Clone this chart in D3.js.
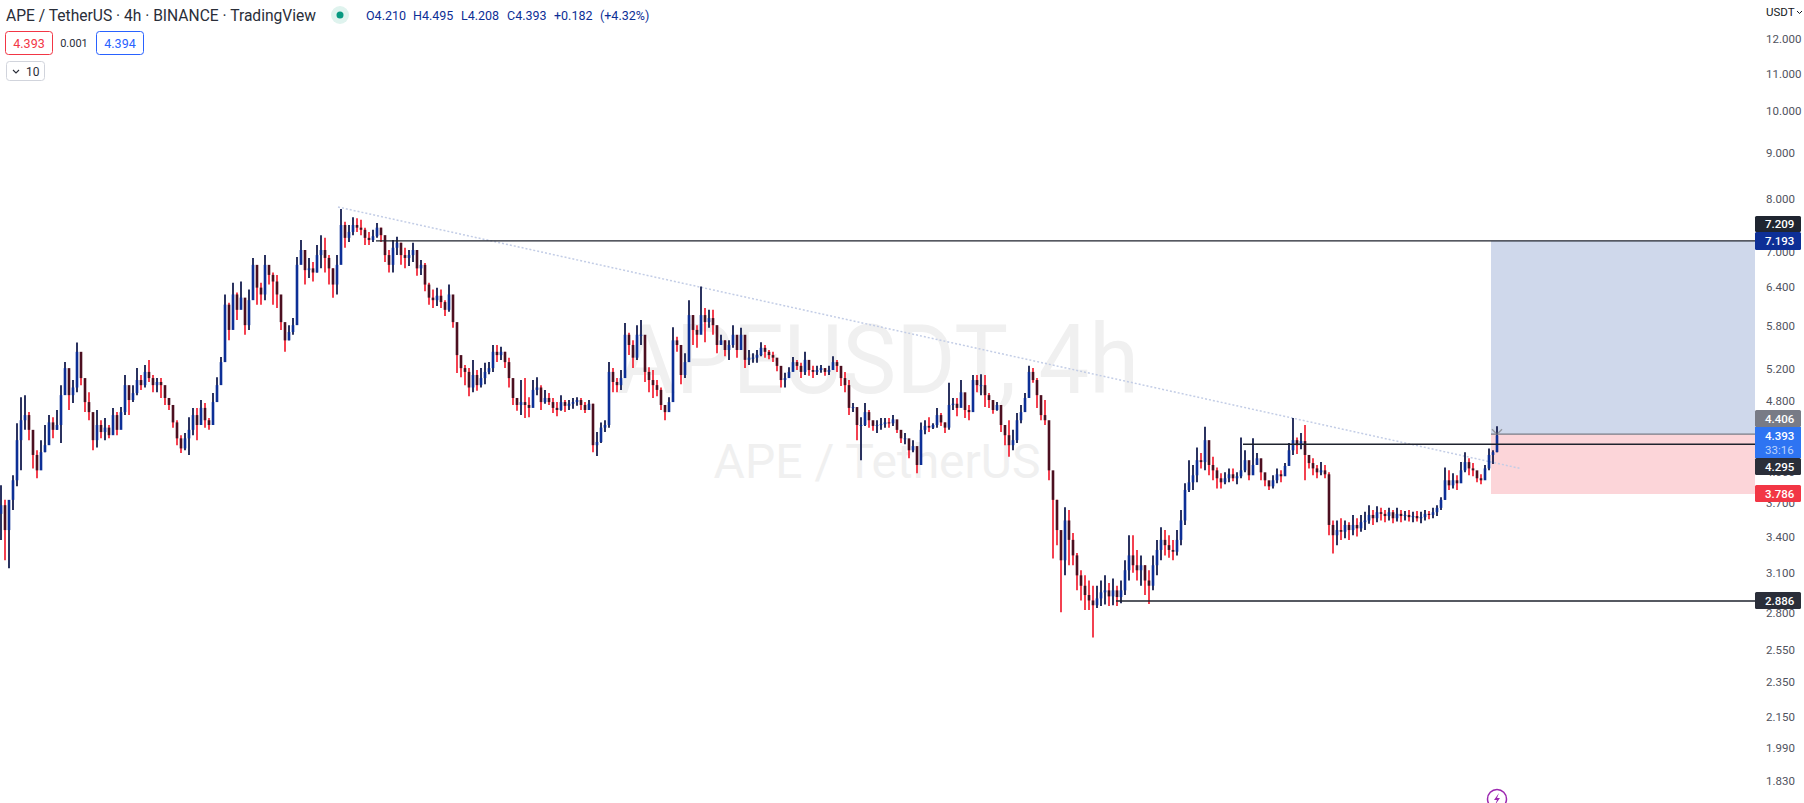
<!DOCTYPE html>
<html><head><meta charset="utf-8">
<script src="https://cdn.jsdelivr.net/npm/d3@7"></script>
<style>html,body{margin:0;padding:0;background:#fff}svg{display:block}text{font-family:Roboto,sans-serif}</style>
</head><body><svg id="c" width="1804" height="803"></svg>
<script>
const highs=[
3.87,3.73,3.59,3.97,4.53,4.84,4.865,4.66,4.42,4.23,
4.34,4.51,4.625,4.60,4.685,4.99,5.29,5.16,5.055,5.56,
5.25,4.93,4.90,4.49,4.685,4.565,4.59,4.51,4.71,4.66,
4.72,5.12,4.90,4.99,5.21,5.12,5.25,5.32,5.12,5.08,
5.08,4.93,4.83,4.625,4.565,4.395,4.42,4.60,4.71,4.71,
4.805,4.77,4.59,4.89,5.09,5.36,6.28,6.15,6.47,6.31,
6.49,6.04,6.36,6.89,6.57,6.47,6.94,6.71,6.64,6.60,
6.04,5.77,5.81,5.915,6.905,7.21,7.03,6.89,6.82,7.12,
7.30,7.25,6.94,6.71,6.94,7.80,7.55,7.49,7.64,7.62,
7.59,7.44,7.36,7.40,7.53,7.44,7.21,7.03,7.21,7.27,
7.16,7.07,7.03,7.16,6.89,6.855,6.80,6.47,6.36,6.39,
6.36,6.19,6.44,6.16,5.81,5.36,5.25,5.21,5.32,5.185,
5.21,5.28,5.29,5.525,5.525,5.50,5.43,5.35,5.02,4.83,
5.055,5.08,4.84,5.055,5.09,4.99,4.93,4.89,4.83,4.78,
4.865,4.805,4.805,4.83,4.84,4.83,4.78,4.805,4.76,4.43,
4.54,4.565,5.29,5.21,5.08,5.185,5.84,5.70,5.59,5.81,
5.885,5.385,5.22,5.185,5.055,4.96,4.745,4.84,5.78,5.64,
5.35,5.41,6.19,5.96,5.81,6.41,6.07,6.04,6.04,5.70,
5.67,5.59,5.59,5.81,5.55,5.77,5.525,5.455,5.41,5.455,
5.565,5.525,5.455,5.43,5.32,5.185,5.15,5.22,5.36,5.32,
5.28,5.43,5.29,5.24,5.24,5.25,5.21,5.24,5.37,5.32,
5.21,5.16,5.055,4.77,4.685,4.60,4.77,4.685,4.54,4.565,
4.59,4.59,4.59,4.625,4.51,4.43,4.42,4.31,4.34,4.21,
4.54,4.565,4.60,4.53,4.71,4.65,4.54,5.02,4.83,4.83,
5.055,4.83,4.745,5.12,5.12,5.13,5.12,4.89,4.77,4.78,
4.66,4.51,4.565,4.455,4.65,4.745,4.89,5.24,5.21,5.08,
4.745,4.805,4.54,3.99,3.73,3.44,3.66,3.635,3.43,3.26,
3.12,3.08,3.04,3.00,3.00,3.04,3.08,3.02,3.055,3.00,
3.04,3.20,3.41,3.41,3.285,3.24,3.16,3.12,3.24,3.37,
3.48,3.455,3.41,3.37,3.455,3.635,3.89,4.125,4.075,4.26,
4.20,4.49,4.23,4.16,4.05,3.99,4.00,4.04,4.04,4.00,
4.37,4.23,4.04,4.36,4.20,4.095,3.96,3.90,3.97,4.04,
4.02,4.095,4.31,4.59,4.37,4.42,4.51,4.145,4.145,4.075,
4.105,4.075,4.00,3.54,3.54,3.56,3.54,3.525,3.59,3.56,
3.59,3.62,3.68,3.635,3.67,3.655,3.635,3.655,3.635,3.655,
3.635,3.625,3.635,3.62,3.625,3.62,3.635,3.625,3.655,3.68,
3.755,4.05,4.02,3.99,3.97,4.105,4.21,4.145,4.095,4.00,
3.98,4.075,4.25,4.23,4.495];
const lows=[
3.37,3.20,3.135,3.635,3.86,4.02,4.455,4.34,4.04,3.94,
4.105,4.21,4.34,4.36,4.455,4.31,4.99,4.685,4.77,4.90,
4.99,4.66,4.565,4.23,4.26,4.36,4.34,4.36,4.51,4.395,
4.48,4.625,4.625,4.78,4.865,4.93,4.96,5.03,4.90,4.90,
4.83,4.745,4.685,4.48,4.285,4.20,4.23,4.18,4.395,4.34,
4.54,4.48,4.455,4.625,4.865,5.12,5.32,5.59,5.81,5.885,
6.12,5.67,5.74,6.44,6.12,6.12,6.19,6.44,6.12,6.07,
5.74,5.43,5.59,5.67,6.36,6.82,6.44,6.55,6.49,6.64,
6.71,6.64,6.44,6.23,6.28,6.82,7.07,7.175,7.30,7.36,
7.30,7.12,7.12,7.175,7.25,7.175,6.82,6.64,6.64,6.94,
6.77,6.71,6.75,6.82,6.585,6.60,6.33,6.12,6.07,6.10,
6.07,5.945,6.01,5.77,5.145,5.09,4.99,4.85,4.90,4.92,
4.96,5.00,5.13,5.16,5.29,5.32,5.21,4.96,4.745,4.675,
4.625,4.59,4.60,4.77,4.865,4.685,4.76,4.745,4.65,4.61,
4.675,4.66,4.685,4.70,4.735,4.685,4.65,4.71,4.21,4.17,
4.31,4.43,4.48,4.90,4.90,4.93,5.16,5.385,5.21,5.32,
5.525,5.03,4.90,4.83,4.85,4.685,4.565,4.66,4.805,5.43,
5.00,5.08,5.455,5.525,5.485,5.74,5.565,5.77,5.67,5.41,
5.54,5.37,5.32,5.485,5.35,5.565,5.21,5.25,5.28,5.28,
5.37,5.35,5.33,5.29,5.17,4.96,4.96,5.08,5.185,5.185,
5.08,5.12,5.11,5.08,5.12,5.15,5.11,5.12,5.20,5.16,
4.98,4.90,4.625,4.66,4.34,4.125,4.50,4.48,4.445,4.42,
4.455,4.48,4.48,4.50,4.42,4.31,4.295,4.145,4.21,3.99,
4.075,4.405,4.43,4.465,4.48,4.50,4.42,4.455,4.685,4.61,
4.78,4.59,4.565,4.93,4.90,4.865,4.72,4.71,4.64,4.675,
4.43,4.285,4.16,4.23,4.31,4.53,4.685,4.85,5.02,4.71,
4.565,4.51,3.92,3.215,3.325,2.805,3.08,3.16,3.16,2.965,
2.89,2.82,2.82,2.63,2.835,2.85,2.86,2.85,2.855,2.85,
2.87,2.93,3.04,3.10,3.04,3.00,2.93,2.865,2.965,3.08,
3.20,3.24,3.22,3.20,3.24,3.325,3.50,3.805,3.825,3.90,
4.04,4.02,3.97,3.92,3.84,3.84,3.88,3.90,3.91,3.88,
3.94,4.00,3.92,3.98,4.085,3.92,3.86,3.825,3.84,3.89,
3.90,4.00,4.105,4.18,4.19,4.24,3.92,4.04,3.97,3.94,
3.97,3.94,3.41,3.255,3.325,3.37,3.385,3.37,3.41,3.40,
3.44,3.455,3.51,3.50,3.525,3.54,3.525,3.54,3.515,3.53,
3.525,3.54,3.53,3.525,3.53,3.515,3.54,3.55,3.56,3.58,
3.635,3.73,3.825,3.84,3.825,3.90,4.00,3.97,3.96,3.90,
3.88,3.94,4.02,4.085,4.208];
const closes=[
3.68,3.455,3.73,3.92,4.34,4.565,4.625,4.455,4.18,4.02,
4.21,4.285,4.54,4.455,4.51,4.865,5.21,4.865,4.96,5.43,
5.08,4.78,4.66,4.34,4.51,4.43,4.48,4.395,4.625,4.455,
4.66,4.99,4.805,4.89,5.055,4.99,5.16,5.08,4.99,5.03,
4.99,4.83,4.745,4.54,4.36,4.25,4.36,4.455,4.625,4.51,
4.71,4.565,4.51,4.78,4.99,5.29,6.12,5.74,6.28,6.04,
6.23,5.81,6.19,6.77,6.39,6.28,6.77,6.60,6.49,6.28,
5.855,5.59,5.71,5.81,6.77,7.03,6.68,6.71,6.64,6.94,
7.03,6.89,6.71,6.44,6.77,7.49,7.25,7.36,7.49,7.44,
7.40,7.25,7.21,7.28,7.44,7.30,6.94,6.77,7.07,7.16,
6.94,6.89,6.94,7.03,6.71,6.77,6.44,6.23,6.19,6.26,
6.16,6.04,6.28,5.855,5.385,5.21,5.16,4.96,5.12,4.99,
5.08,5.16,5.21,5.43,5.385,5.43,5.29,5.08,4.83,4.745,
4.78,4.745,4.71,4.93,4.96,4.78,4.83,4.78,4.71,4.685,
4.78,4.735,4.76,4.78,4.805,4.745,4.685,4.76,4.285,4.32,
4.48,4.51,5.16,5.03,4.99,5.08,5.67,5.525,5.35,5.67,
5.67,5.16,5.055,4.99,4.93,4.745,4.66,4.78,5.59,5.525,
5.12,5.29,5.96,5.74,5.67,5.96,5.855,5.915,5.81,5.525,
5.59,5.455,5.525,5.67,5.455,5.67,5.32,5.35,5.35,5.385,
5.485,5.43,5.385,5.35,5.24,5.055,5.08,5.16,5.29,5.24,
5.16,5.32,5.185,5.16,5.185,5.21,5.16,5.185,5.29,5.24,
5.08,4.99,4.71,4.72,4.51,4.51,4.66,4.565,4.50,4.51,
4.52,4.54,4.53,4.575,4.455,4.36,4.36,4.23,4.275,4.075,
4.455,4.50,4.48,4.51,4.625,4.54,4.48,4.745,4.76,4.71,
4.90,4.685,4.66,5.055,4.99,4.99,4.865,4.805,4.685,4.745,
4.51,4.395,4.285,4.34,4.565,4.66,4.83,5.16,5.055,4.865,
4.625,4.565,4.02,3.73,3.455,3.20,3.54,3.37,3.24,3.08,
3.00,2.93,2.89,2.855,2.905,2.95,2.965,2.92,2.965,2.915,
2.965,3.12,3.24,3.16,3.12,3.16,3.04,3.00,3.16,3.285,
3.37,3.325,3.285,3.27,3.37,3.54,3.825,3.90,3.97,4.125,
4.105,4.34,4.075,4.02,3.94,3.90,3.94,3.98,3.94,3.96,
4.02,4.125,3.97,4.075,4.145,4.00,3.92,3.86,3.92,3.98,
3.96,4.065,4.23,4.34,4.285,4.33,4.18,4.095,4.04,4.00,
4.02,3.98,3.50,3.41,3.455,3.44,3.50,3.455,3.50,3.47,
3.525,3.54,3.59,3.56,3.615,3.60,3.58,3.615,3.56,3.60,
3.58,3.59,3.57,3.58,3.56,3.57,3.60,3.59,3.615,3.655,
3.73,3.92,3.87,3.92,3.89,4.02,4.105,4.04,4.02,3.94,
3.92,4.04,4.18,4.21,4.393];
const firstOpen=3.60;
const opens=[firstOpen].concat(closes.slice(0,-1)); // each 4h candle opens at the previous close

const priceTicks=[12,11,10,9,8,7,6.4,5.8,5.2,4.8,4,3.7,3.4,3.1,2.8,2.55,2.35,2.15,1.99,1.83];
const levelPrices=[7.193,4.295,2.886];
const levelStarts=[93.75,310.5,278.75];
const trendBars=[84.25,379.75];
const trendPrices=[7.84,4.04];
const entryPrice=4.406, targetPrice=7.193, stopPrice=3.786, boxStartBar=372.5;
const priceLabels=[
 {t:"7.209",top:216,h:16,bg:"#1f2530",c:"#fff"},
 {t:"7.193",top:232,h:18,bg:"#0d2f96",c:"#fff"},
 {t:"4.406",top:410,h:17,bg:"#787b86",c:"#fff"},
 {t:"4.295",top:458,h:17,bg:"#2a2e39",c:"#fff"},
 {t:"3.786",top:485,h:17,bg:"#f23645",c:"#fff"},
 {t:"2.886",top:592,h:17,bg:"#2a2e39",c:"#fff"}];
const ohlcTexts=[["O4.210",366],["H4.495",413],["L4.208",461],["C4.393",507],["+0.182",554],["(+4.32%)",600]];

const PR=1755;
const svg=d3.select("#c");
const x=d3.scaleLinear().domain([0,374]).range([1,1497]);
const y=d3.scaleLog().domain([12,2.886]).range([39.2,601]);

svg.append("defs").append("clipPath").attr("id","p").append("rect").attr("width",PR).attr("height",803);
const g=svg.append("g").attr("clip-path","url(#p)");

// watermark
g.append("text").attr("x",617).attr("y",393).attr("font-size",97).attr("textLength",522).attr("lengthAdjust","spacingAndGlyphs").attr("fill","#f0f0f0").text("APEUSDT, 4h");
g.append("text").attr("x",877).attr("y",478).attr("text-anchor","middle").attr("font-size",48).attr("fill","#f0f0f0").text("APE / TetherUS");

// position boxes
g.append("rect").attr("x",x(boxStartBar)).attr("y",y(targetPrice)).attr("width",PR-x(boxStartBar)).attr("height",y(entryPrice)-y(targetPrice)).attr("fill","#cfd8eb");
g.append("rect").attr("x",x(boxStartBar)).attr("y",y(entryPrice)).attr("width",PR-x(boxStartBar)).attr("height",y(stopPrice)-y(entryPrice)).attr("fill","#fcd5d9");

// trend line
g.append("line").attr("x1",x(trendBars[0])).attr("y1",y(trendPrices[0])).attr("x2",x(trendBars[1])).attr("y2",y(trendPrices[1]))
 .attr("stroke","#c3cde6").attr("stroke-width",1.5).attr("stroke-dasharray","2 2");

// candles
const candles=closes.map((c,i)=>({i,o:opens[i],h:highs[i],l:lows[i],c,up:c>=opens[i]}));
g.append("g").selectAll("line").data(candles).join("line")
 .attr("x1",d=>x(d.i)).attr("x2",d=>x(d.i)).attr("y1",d=>y(d.h)).attr("y2",d=>y(d.l))
 .attr("stroke",d=>d.up?"#141c4e":"#f22c3d").attr("stroke-width",1.8);
g.append("g").selectAll("rect").data(candles).join("rect")
 .attr("x",d=>x(d.i)-1.3).attr("width",2.6)
 .attr("y",d=>y(Math.max(d.o,d.c))).attr("height",d=>Math.max(1,Math.abs(y(d.o)-y(d.c))))
 .attr("fill",d=>d.up?"#0d2f96":"#4c0f20");

// horizontal levels
g.append("g").selectAll("line").data(levelPrices).join("line")
 .attr("x1",(d,i)=>x(levelStarts[i])).attr("x2",PR).attr("y1",d=>y(d)).attr("y2",d=>y(d))
 .attr("stroke","#1e222d").attr("stroke-width",1.3);
g.append("line").attr("x1",x(boxStartBar)).attr("x2",PR).attr("y1",y(entryPrice)).attr("y2",y(entryPrice)).attr("stroke","#787b86").attr("stroke-width",1.2);

// small marker strokes at the last bar
const mx=x(374), my=y(entryPrice);
g.append("path").attr("d",`M${mx-5},${my-5}L${mx-1},${my-1}M${mx+5},${my-5}L${mx+1},${my-1}`).attr("stroke","#9598a1").attr("stroke-width",1.4).attr("fill","none");

// axis
const axis=svg.append("g").attr("transform",`translate(${PR},0)`)
 .call(d3.axisRight(y).tickValues(priceTicks).tickFormat(d3.format(".3f")).tickSize(0).tickPadding(11));
axis.select(".domain").remove();
axis.selectAll("text").attr("font-family","Roboto,sans-serif").attr("font-size",11.5).attr("fill","#50535e");

svg.append("text").attr("x",1766).attr("y",16).attr("font-size",11.5).attr("fill","#131722").text("USDT");
svg.append("path").attr("d","M1797,11l2.5,2.5l2.5,-2.5").attr("fill","none").attr("stroke","#131722");

// price labels
const lab=svg.append("g").selectAll("g").data(priceLabels).join("g");
lab.append("rect").attr("x",PR).attr("width",46).attr("y",d=>d.top).attr("height",d=>d.h).attr("rx",1.5).attr("fill",d=>d.bg);
lab.append("text").attr("x",1765).attr("y",d=>d.top+d.h/2+4).attr("font-size",11.5).attr("font-weight",500).attr("fill",d=>d.c).text(d=>d.t);
svg.append("rect").attr("x",PR).attr("y",427).attr("width",46).attr("height",31).attr("fill","#2e74f2");
svg.append("text").attr("x",1765).attr("y",440).attr("font-size",11.5).attr("font-weight",500).attr("fill","#fff").text("4.393");
svg.append("text").attr("x",1765).attr("y",454).attr("font-size",11.5).attr("fill","#bcd3fb").text("33:16");

// header
svg.append("text").attr("x",6).attr("y",21).attr("font-size",15.6).attr("fill","#2a2e39").text("APE / TetherUS · 4h · BINANCE · TradingView");
svg.append("circle").attr("cx",340).attr("cy",15).attr("r",9).attr("fill","#dff3ee");
svg.append("circle").attr("cx",340).attr("cy",15).attr("r",3.5).attr("fill","#089981");
svg.append("g").selectAll("text").data(ohlcTexts).join("text").attr("x",d=>d[1]).attr("y",20).attr("font-size",12.5).attr("fill","#0d2f96").text(d=>d[0]);
svg.append("rect").attr("x",5.5).attr("y",31.5).attr("width",47).attr("height",23).attr("rx",3).attr("fill","#fff").attr("stroke","#f23645");
svg.append("text").attr("x",29).attr("y",48).attr("text-anchor","middle").attr("font-size",12.5).attr("fill","#f23645").text("4.393");
svg.append("text").attr("x",74).attr("y",47).attr("text-anchor","middle").attr("font-size",11).attr("fill","#2a2e39").text("0.001");
svg.append("rect").attr("x",96.5).attr("y",31.5).attr("width",47).attr("height",23).attr("rx",3).attr("fill","#fff").attr("stroke","#2962ff");
svg.append("text").attr("x",120).attr("y",48).attr("text-anchor","middle").attr("font-size",12.5).attr("fill","#2962ff").text("4.394");
svg.append("rect").attr("x",6.5).attr("y",61.5).attr("width",38).attr("height",19).attr("rx",3).attr("fill","#fff").attr("stroke","#d1d4dc");
svg.append("path").attr("d","M13,70l3,3l3,-3").attr("fill","none").attr("stroke","#2a2e39").attr("stroke-width",1.1);
svg.append("text").attr("x",26).attr("y",76).attr("font-size",12).attr("fill","#2a2e39").text("10");

// lightning badge
svg.append("circle").attr("cx",1497).attr("cy",799).attr("r",9.5).attr("fill","#fff").attr("stroke","#9c27b0").attr("stroke-width",1.5);
svg.append("path").attr("d","M1499,793l-5,7h3l-2,5l5,-7h-3z").attr("fill","#9c27b0");
</script></body></html>
